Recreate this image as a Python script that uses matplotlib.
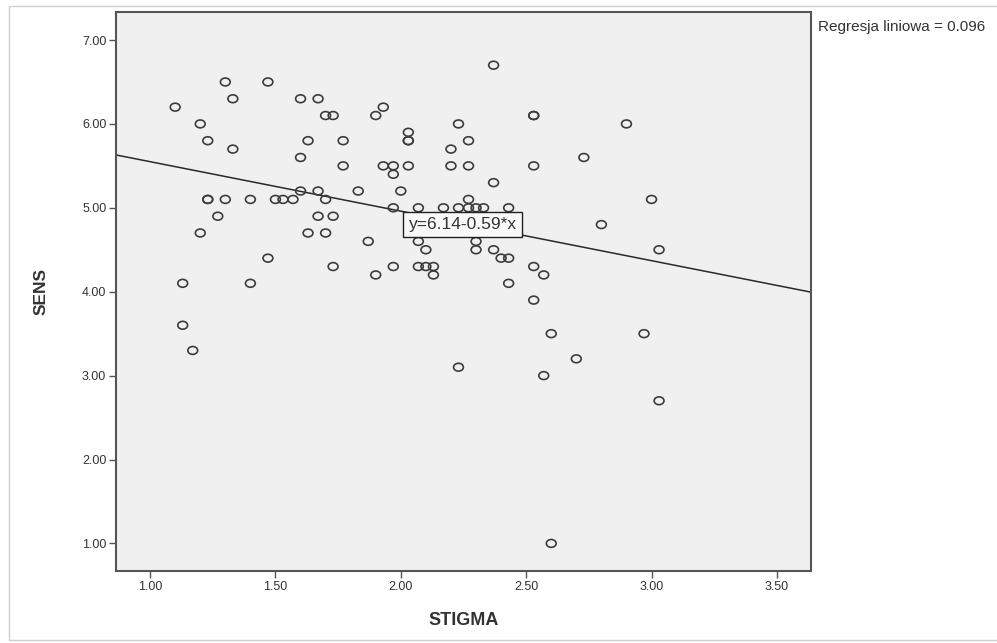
import numpy as np
import matplotlib
matplotlib.use("Agg")
import matplotlib.pyplot as plt
from matplotlib.path import Path
from matplotlib.transforms import Affine2D
from matplotlib.patches import Rectangle

# ---------------- data ----------------
stigma = [
    1.10, 1.20, 1.23, 1.30, 1.33, 1.33, 1.47, 1.60, 1.67, 1.70, 1.73, 1.90, 1.93,
    1.63, 1.77, 1.60, 1.77, 1.93, 1.97, 1.97, 1.60, 1.67, 1.83, 2.00,
    1.23, 1.23, 1.30, 1.40, 1.50, 1.53, 1.57, 1.70, 1.97,
    1.27, 1.67, 1.73, 1.20, 1.63, 1.70, 1.87, 1.47, 1.73, 1.97, 1.90,
    1.13, 1.40, 1.13, 1.17,
    2.37, 2.53, 2.53, 2.23, 2.03, 2.03, 2.03, 2.27, 2.20, 2.03, 2.20, 2.27, 2.53,
    2.37, 2.27, 2.07, 2.17, 2.23, 2.27, 2.30, 2.33, 2.43,
    2.07, 2.10, 2.30, 2.30, 2.37, 2.40, 2.43, 2.07, 2.10, 2.13, 2.13,
    2.53, 2.57, 2.43, 2.53,
    2.73, 2.90, 3.00, 2.80, 3.03, 2.60, 2.97, 2.70, 2.57, 2.23, 3.03, 2.60,
]
sens = [
    6.2, 6.0, 5.8, 6.5, 6.3, 5.7, 6.5, 6.3, 6.3, 6.1, 6.1, 6.1, 6.2,
    5.8, 5.8, 5.6, 5.5, 5.5, 5.5, 5.4, 5.2, 5.2, 5.2, 5.2,
    5.1, 5.1, 5.1, 5.1, 5.1, 5.1, 5.1, 5.1, 5.0,
    4.9, 4.9, 4.9, 4.7, 4.7, 4.7, 4.6, 4.4, 4.3, 4.3, 4.2,
    4.1, 4.1, 3.6, 3.3,
    6.7, 6.1, 6.1, 6.0, 5.9, 5.8, 5.8, 5.8, 5.7, 5.5, 5.5, 5.5, 5.5,
    5.3, 5.1, 5.0, 5.0, 5.0, 5.0, 5.0, 5.0, 5.0,
    4.6, 4.5, 4.6, 4.5, 4.5, 4.4, 4.4, 4.3, 4.3, 4.3, 4.2,
    4.3, 4.2, 4.1, 3.9,
    5.6, 6.0, 5.1, 4.8, 4.5, 3.5, 3.5, 3.2, 3.0, 3.1, 2.7, 1.0,
]

fit_intercept = 6.14
fit_slope = -0.59
r2_text = "Regresja liniowa = 0.096"

x_ticks = [1.0, 1.5, 2.0, 2.5, 3.0, 3.5]
y_ticks = [1.0, 2.0, 3.0, 4.0, 5.0, 6.0, 7.0]

# ---------------- plot ----------------
plt.rcParams["font.family"] = ["Liberation Sans", "DejaVu Sans"]

fig = plt.figure(figsize=(9.97, 6.43), dpi=100)
fig.patch.set_facecolor("white")

# thin grey frame round the whole picture
fig.patches.append(Rectangle((9 / 997, 3 / 643), 1.2, 1 - 9 / 643,
                             transform=fig.transFigure, fill=False,
                             edgecolor="#cfcfcf", linewidth=1.0))

ax = fig.add_axes([116 / 997, 1 - 571 / 643, 695 / 997, 559 / 643])
ax.set_facecolor("#f0f0f0")
ax.set_xlim(0.864, 3.636)
ax.set_ylim(0.671, 7.334)

# slightly wide open circles, as in the screenshot
ellipse = Path.unit_circle().transformed(Affine2D().scale(1.25, 1.0))
ax.scatter(stigma, sens, s=50, marker=ellipse, facecolors="none",
           edgecolors="#3c3c3c", linewidths=1.2, zorder=3)

xl = np.array(ax.get_xlim())
ax.plot(xl, fit_intercept + fit_slope * xl, color="#2a2a2a", lw=1.1, zorder=2)

ax.text(2.246, 4.80, "y=6.14-0.59*x", ha="center", va="center",
        fontsize=12.5, color="#333333", zorder=5,
        bbox=dict(boxstyle="square,pad=0.3", facecolor="#f9f9f9",
                  edgecolor="#222222", linewidth=1.0))

ax.set_xticks(x_ticks)
ax.set_xticklabels([f"{v:.2f}" for v in x_ticks])
ax.set_yticks(y_ticks)
ax.set_yticklabels([f"{v:.2f}" for v in y_ticks])
ax.tick_params(direction="out", length=5, width=1, colors="#555555",
               labelcolor="#333333", labelsize=9, pad=2)

for sp in ax.spines.values():
    sp.set_color("#555555")
    sp.set_linewidth(1.5)

ax.set_xlabel("STIGMA", fontsize=13, fontweight="bold", color="#333333",
              labelpad=14)
ax.set_ylabel("SENS", fontsize=12.5, fontweight="bold", color="#333333",
              labelpad=24)

fig.text(818 / 997, 1 - 27 / 643, r2_text, fontsize=11, color="#333333",
         ha="left", va="center")

fig.savefig("out.png", dpi=100, facecolor="white")
